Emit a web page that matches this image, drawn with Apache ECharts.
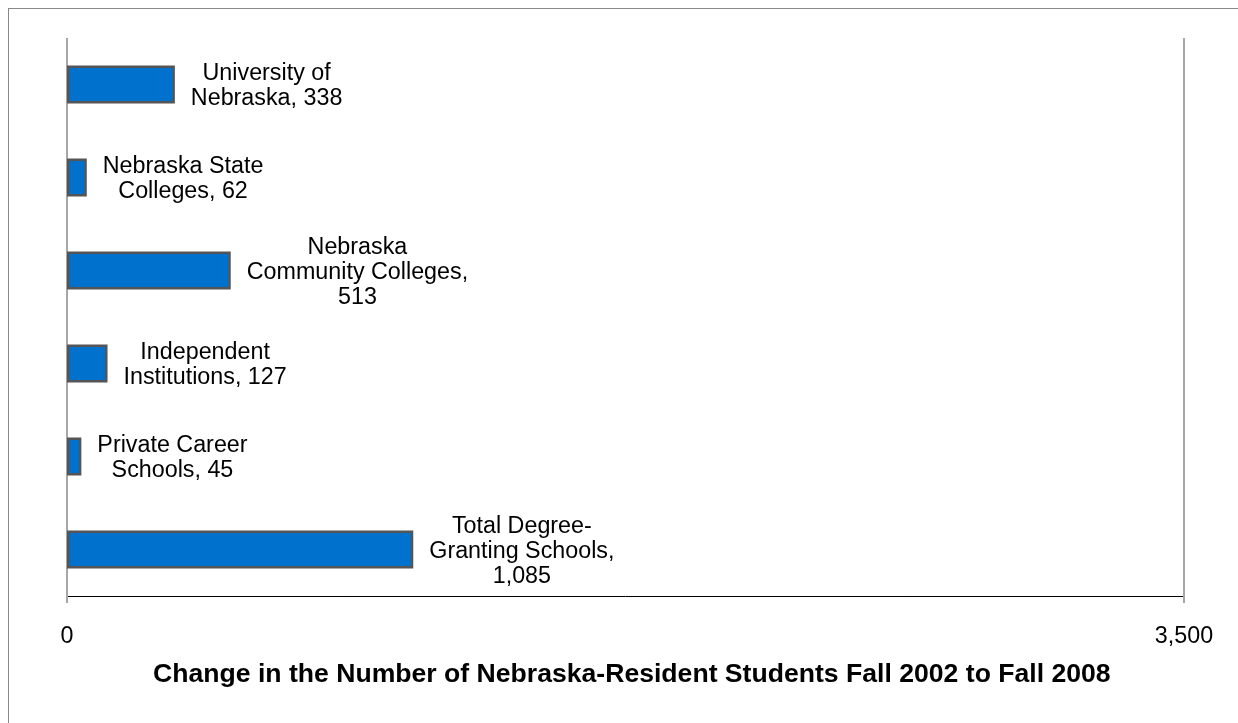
<!DOCTYPE html>
<html><head><meta charset="utf-8">
<script src="https://cdn.jsdelivr.net/npm/echarts@6/dist/echarts.min.js"></script>
<style>
html,body{margin:0;padding:0;width:1238px;height:723px;overflow:hidden;background:#fff;}
#frame{position:absolute;left:8px;top:8px;width:1300px;height:800px;border:1px solid #888;box-sizing:border-box;}
#chart{position:absolute;left:0;top:0;width:1238px;height:723px;}
</style></head>
<body><div id="frame"></div><div id="chart"></div>
<script>
const categories = ['University of Nebraska', 'Nebraska State Colleges', 'Nebraska Community Colleges', 'Independent Institutions', 'Private Career Schools', 'Total Degree-Granting Schools'];
const labelNames = ['University of\nNebraska', 'Nebraska State\nColleges', 'Nebraska\nCommunity Colleges', 'Independent\nInstitutions', 'Private Career\nSchools', 'Total Degree-\nGranting Schools'];
const valueOnOwnLine = [false, false, true, false, false, true];
const values = [338, 62, 513, 127, 45, 1085];
const axisMin = 0, axisMax = 3500, axisInterval = 3500;
const titleText = 'Change in the Number of Nebraska-Resident Students Fall 2002 to Fall 2008';

const FONT = 'Liberation Sans, Arial, sans-serif';
const fmt = v => Number(v).toLocaleString('en-US');

const chart = echarts.init(document.getElementById('chart'), null, {renderer: 'canvas'});
chart.setOption({
  animation: false,
  backgroundColor: 'transparent',
  title: {
    text: titleText, left: 153, top: 661, padding: 0,
    textStyle: {fontSize: 26.6, fontWeight: 'bold', fontFamily: FONT, color: '#000'}
  },
  grid: {left: 67, right: 54, top: 38, bottom: 127, containLabel: false, outerBoundsMode: 'none'},
  xAxis: {
    type: 'value', min: axisMin, max: axisMax, interval: axisInterval,
    splitLine: {show: true, lineStyle: {color: '#a6a6a6', width: 2}},
    axisLine: {show: true, lineStyle: {color: '#000', width: 1}},
    axisTick: {show: true, length: 7, lineStyle: {color: '#a6a6a6', width: 2}},
    axisLabel: {fontSize: 23.3, fontFamily: FONT, color: '#000', margin: 29, formatter: fmt}
  },
  yAxis: {
    type: 'category', data: categories, inverse: true,
    axisLine: {show: false}, axisTick: {show: false}, axisLabel: {show: false}, splitLine: {show: false}
  },
  series: [{
    type: 'bar', data: values, barWidth: 38,
    itemStyle: {color: '#0072CE', borderColor: '#555555', borderWidth: 2.4},
    label: {
      show: true, position: 'right', distance: 16, offset: [0, 2],
      formatter: p => {
        const i = p.dataIndex;
        const txt = labelNames[i] + ',' + (valueOnOwnLine[i] ? '\n' : ' ') + fmt(values[i]);
        return txt.split('\n').map(l => '{c|' + l + '}').join('\n');
      },
      rich: {c: {align: 'center', fontSize: 23.3, lineHeight: 25, fontFamily: FONT, color: '#000'}}
    }
  }]
});
</script>
</body></html>
